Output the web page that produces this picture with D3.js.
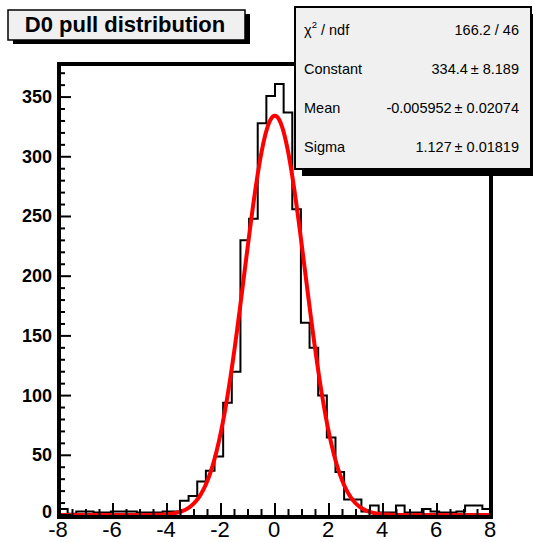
<!DOCTYPE html>
<html>
<head>
<meta charset="utf-8">
<script src="https://cdn.jsdelivr.net/npm/d3@7"></script>
<style>
  body { margin: 0; background: #fff; }
  svg { display: block; font-family: "Liberation Sans", Arial, Helvetica, sans-serif; }
</style>
</head>
<body>
<div id="chart"></div>
<script>
// histogram: 50 bins from -8 to 8
var binLow = -8, binHigh = 8;
var binCounts = [5, 1, 3, 3, 2, 2, 3, 3, 3, 2, 2, 2, 3, 3,
                 12, 16, 28, 37, 49, 94, 120, 230, 248, 328, 351, 361, 337, 256,
                 161, 140, 100, 65, 36, 13, 13, 3, 8, 2, 2, 8, 2, 2, 5, 3, 2, 2, 3, 8, 8, 5];

// gaussian fit result (from the stats box)
var fitNames = ["Constant", "Mean", "Sigma"];
var fitValues = [334.4, -0.005952, 1.127];
var fitValueText = ["334.4", "-0.005952", "1.127"];
var fitErrorText = ["8.189", "0.02074", "0.01819"];
var chi2Text = "166.2 / 46";

var xTicks = [-8, -6, -4, -2, 0, 2, 4, 6, 8];
var yTicks = [0, 50, 100, 150, 200, 250, 300, 350];
var yMax = 377.7;
var titleText = "D0 pull distribution";

var W = 533, H = 542;
var plot = { left: 59, right: 491, top: 64, bottom: 515 };

var svg = d3.select("#chart").append("svg")
            .attr("width", W)
            .attr("height", H);

var xScale = d3.scaleLinear().domain([binLow, binHigh]).range([plot.left, plot.right]);
var yScale = d3.scaleLinear().domain([0, yMax]).range([plot.bottom, plot.top]);

svg.append("clipPath").attr("id", "clip")
   .append("rect")
   .attr("x", plot.left).attr("y", plot.top)
   .attr("width", plot.right - plot.left).attr("height", plot.bottom - plot.top + 2);

// histogram outline
var binWidth = (binHigh - binLow) / binCounts.length;
var histPts = [[binLow, 0]];
binCounts.forEach(function(c, i) {
  histPts.push([binLow + i * binWidth, c]);
  histPts.push([binLow + (i + 1) * binWidth, c]);
});
histPts.push([binHigh, 0]);

var line = d3.line()
  .x(function(d) { return xScale(d[0]); })
  .y(function(d) { return yScale(d[1]); });

svg.append("path")
   .datum(histPts)
   .attr("clip-path", "url(#clip)")
   .attr("fill", "none")
   .attr("stroke", "#000")
   .attr("stroke-width", 2)
   .attr("d", line);

// fit function drawn from the fitted parameters
function gaus(x) {
  var t = (x - fitValues[1]) / fitValues[2];
  return fitValues[0] * Math.exp(-0.5 * t * t);
}
var fitPts = d3.range(binLow, binHigh + 0.0001, 0.02).map(function(x) { return [x, gaus(x)]; });

svg.append("path")
   .datum(fitPts)
   .attr("clip-path", "url(#clip)")
   .attr("fill", "none")
   .attr("stroke", "#ff0000")
   .attr("stroke-width", 4)
   .attr("d", line);

// frame
svg.append("rect")
   .attr("x", plot.left).attr("y", plot.top)
   .attr("width", plot.right - plot.left)
   .attr("height", plot.bottom + 2 - plot.top)
   .attr("fill", "none")
   .attr("stroke", "#000")
   .attr("stroke-width", 4);

// y axis ticks
var yMinor = d3.range(0, yMax, 10);
svg.selectAll(".ytick")
   .data(yMinor).enter()
   .append("line")
   .attr("x1", plot.left)
   .attr("x2", function(d) { return plot.left + (d % 50 === 0 ? 12 : 6); })
   .attr("y1", function(d) { return yScale(d); })
   .attr("y2", function(d) { return yScale(d); })
   .attr("stroke", "#000")
   .attr("stroke-width", 2);

svg.selectAll(".ylab")
   .data(yTicks).enter()
   .append("text")
   .attr("x", 52)
   .attr("y", function(d) { return yScale(d) + (d === 0 ? 3 : 6); })
   .attr("text-anchor", "end")
   .attr("font-size", 18)
   .attr("font-weight", "bold")
   .text(function(d) { return d; });

// x axis ticks
var xMinor = d3.range(binLow, binHigh + 0.001, 0.5);
svg.selectAll(".xtick")
   .data(xMinor).enter()
   .append("line")
   .attr("x1", function(d) { return xScale(d); })
   .attr("x2", function(d) { return xScale(d); })
   .attr("y1", plot.bottom)
   .attr("y2", function(d) { return plot.bottom - (d % 2 === 0 ? 12 : 6); })
   .attr("stroke", "#000")
   .attr("stroke-width", 2);

svg.selectAll(".xlab")
   .data(xTicks).enter()
   .append("text")
   .attr("x", function(d) { return xScale(d) - 1; })
   .attr("y", 537)
   .attr("text-anchor", "middle")
   .attr("font-size", 22)
   .text(function(d) { return d; });

// title box
svg.append("rect").attr("x", 13).attr("y", 14).attr("width", 237).attr("height", 30).attr("fill", "#000");
svg.append("rect").attr("x", 8).attr("y", 10).attr("width", 237).attr("height", 30)
   .attr("fill", "#f0f0f0").attr("stroke", "#000").attr("stroke-width", 1.5);
svg.append("text")
   .attr("x", 125).attr("y", 32)
   .attr("text-anchor", "middle")
   .attr("font-size", 22)
   .attr("font-weight", "bold")
   .text(titleText);

// stats box
var sx = 295, sy = 7, sw = 236, sh = 162;
svg.append("rect").attr("x", sx + 7).attr("y", sy + 7).attr("width", sw).attr("height", sh).attr("fill", "#000");
svg.append("rect").attr("x", sx).attr("y", sy).attr("width", sw).attr("height", sh)
   .attr("fill", "#f0f0f0").attr("stroke", "#000").attr("stroke-width", 2);

var fs = 14.5;
var rowY = [35, 74, 113, 152];
var chi = svg.append("text").attr("x", 304).attr("y", rowY[0]).attr("font-size", fs);
chi.append("tspan").text("\u03c7");
chi.append("tspan").attr("font-size", 9.5).attr("dy", -7).text("2");
chi.append("tspan").attr("dy", 7).text(" / ndf");
svg.append("text").attr("x", 519).attr("y", rowY[0]).attr("font-size", fs)
   .attr("text-anchor", "end").text(chi2Text);

fitNames.forEach(function(n, i) {
  svg.append("text").attr("x", 304).attr("y", rowY[i + 1]).attr("font-size", fs).text(n);
  svg.append("text").attr("x", 519).attr("y", rowY[i + 1]).attr("font-size", fs)
     .attr("text-anchor", "end")
     .text(fitValueText[i] + "\u2009\u00b1 " + fitErrorText[i]);
});
</script>
</body>
</html>
